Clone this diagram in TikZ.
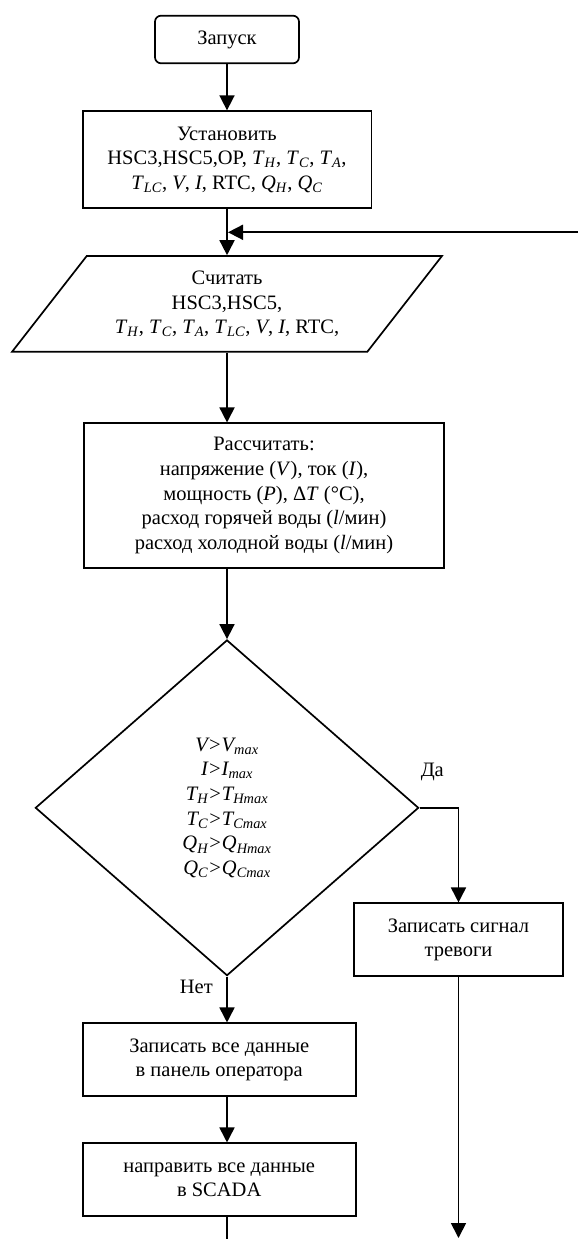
\documentclass[tikz,border=0pt]{standalone}
\usepackage{fontspec}
\setmainfont{Liberation Serif}
\usetikzlibrary{arrows.meta,shapes.geometric}
\newcommand\subvar[2]{\textit{#1}\textsubscript{\textit{#2}}}

\begin{document}
\begin{tikzpicture}[x=1pt, y=-1pt, line width=1.7pt, >={Triangle[length=15pt,width=15pt]},
  font=\fontsize{20.5}{24.7}\selectfont,
  term/.style={draw, rectangle, rounded corners=6pt, minimum width=144pt, minimum height=47.6pt, inner sep=0pt},
  proc/.style={draw, rectangle, align=center, inner sep=0pt},
  io/.style={draw, trapezium, trapezium left angle=48, trapezium right angle=132, trapezium stretches=true,
    minimum width=431.6pt, minimum height=95.7pt, align=center, inner sep=0pt},
  decide/.style={draw, diamond, align=center, minimum width=383.3pt, minimum height=335.7pt, inner sep=0pt}]
  \useasboundingbox (0,0) rectangle (578,1239);

  \node (start) [term] at (227,39.5) {Запуск};
  \node (set) [proc, minimum width=288.7pt, minimum height=97pt] at (227,159.7)
    {Установить\\HSC3,HSC5,OP, \subvar{T}{H}, \subvar{T}{C}, \subvar{T}{A},\\
     \subvar{T}{LC}, \textit{V}, \textit{I}, RTC, \subvar{Q}{H}, \subvar{Q}{C}};
  \node (read) [io] at (227,303.9)
    {Считать\\HSC3,HSC5,\\\subvar{T}{H}, \subvar{T}{C}, \subvar{T}{A}, \subvar{T}{LC}, \textit{V}, \textit{I}, RTC,};
  \node (calc) [proc, minimum width=360pt, minimum height=144.4pt] at (264,495.5)
    {Рассчитать:\\напряжение (\textit{V}), ток (\textit{I}),\\мощность (\textit{P}), Δ\textit{T} (°C),\\
     расход горячей воды (\textit{l}/мин)\\расход холодной воды (\textit{l}/мин)};
  \node (dec) [decide] at (227,807.8)
    {\textit{V>V\textsubscript{max}}\\\textit{I>I\textsubscript{max}}\\
     \textit{T\textsubscript{H}>T\textsubscript{Hmax}}\\\textit{T\textsubscript{C}>T\textsubscript{Cmax}}\\
     \textit{Q\textsubscript{H}>Q\textsubscript{Hmax}}\\\textit{Q\textsubscript{C}>Q\textsubscript{Cmax}}};
  \node (alarm) [proc, minimum width=209pt, minimum height=73pt] at (458.5,939.8) {Записать сигнал\\тревоги};
  \node (save) [proc, minimum width=273pt, minimum height=73pt] at (219.2,1059.8) {Записать все данные\\в панель оператора};
  \node (send) [proc, minimum width=273pt, minimum height=73pt] at (219.2,1179.8) {направить все данные\\в SCADA};
  \node (yes) at (432.3,771.7) {Да};
  \node (no) at (196.3,987.3) {Нет};

  \coordinate (back) at (578,232.3);
  \coordinate (outL) at (227,1239);
  \coordinate (outR) at (458.5,1238);

  \draw[->] (start) -- (set);
  \draw[->] (set) -- (read);
  \draw[->, shorten >=1pt] (back) -- (back -| set.south);
  \draw[->] (read.south) -- (read.south |- calc.north);
  \draw[->] (calc.south -| dec.north) -- (dec.north);
  \draw[->] (dec.east) -| (alarm.north);
  \draw[->] (dec.south) -- (dec.south |- save.north);
  \draw[->] (dec.south |- save.south) -- (dec.south |- send.north);
  \draw (dec.south |- send.south) -- (outL);
  \draw[->] (alarm.south) -- (outR);
\end{tikzpicture}
\end{document}
